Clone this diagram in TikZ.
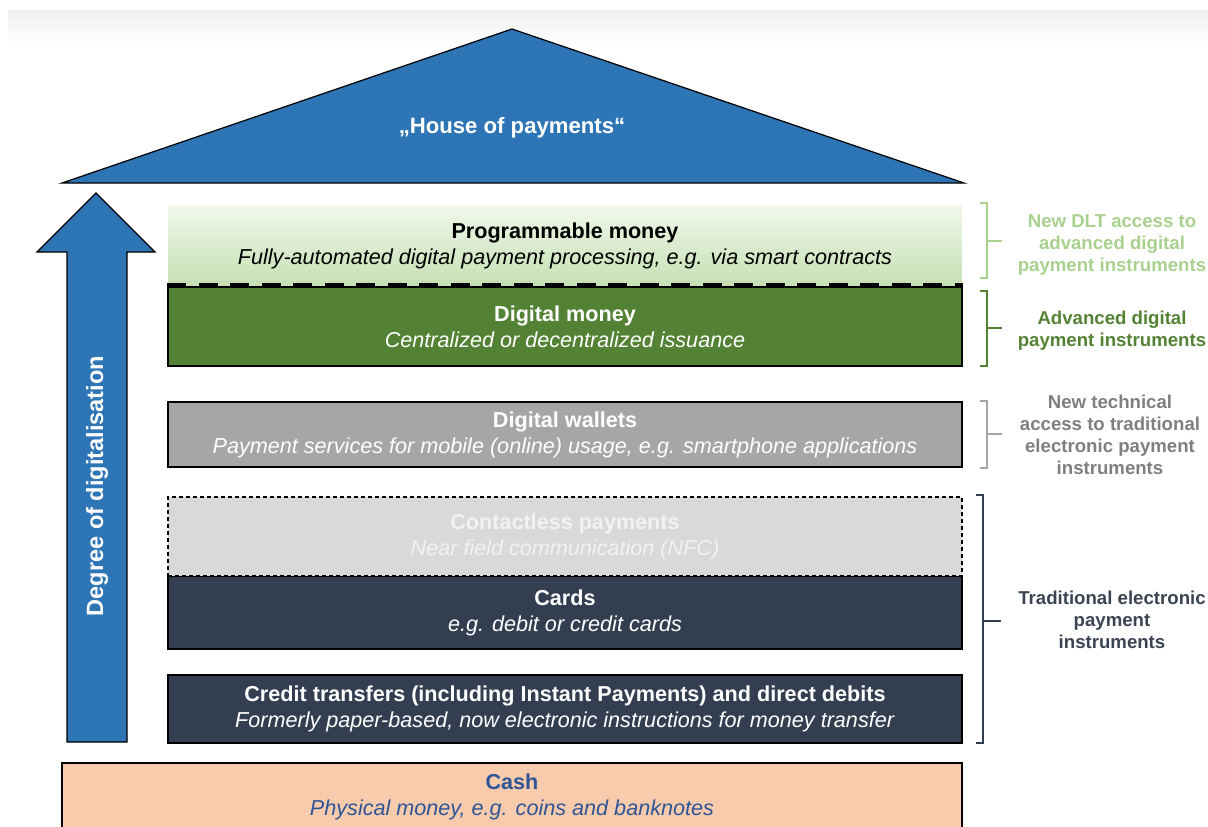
\documentclass[tikz,border=0pt]{standalone}
\usepackage{fontspec}
\setmainfont{Liberation Sans}
\usetikzlibrary{positioning}

\definecolor{roofblue}{RGB}{46,117,182}
\definecolor{proglight}{RGB}{240,248,234}
\definecolor{progdark}{RGB}{197,224,180}
\definecolor{moneygreen}{RGB}{84,130,53}
\definecolor{walletgray}{RGB}{166,166,166}
\definecolor{nfcgray}{RGB}{217,217,217}
\definecolor{navy}{RGB}{51,63,80}
\definecolor{cashfill}{RGB}{248,203,173}
\definecolor{cashtext}{RGB}{47,85,151}
\definecolor{dltgreen}{RGB}{169,209,142}
\definecolor{techgray}{RGB}{127,127,127}
\definecolor{tradtext}{RGB}{59,68,83}

\tikzset{
    layer/.style={
        draw=black, line width=0.7pt,
        minimum width=15.88cm, inner sep=0pt,
        align=center, font=\fontsize{12.3}{14.8}\selectfont
    },
    sidelbl/.style={
        align=center, text=#1,
        font=\bfseries\fontsize{10.6}{12.6}\selectfont
    },
    sidebrk/.style={draw=#1, line width=1.1pt}
}

\begin{document}
\begin{tikzpicture}[x=0.02cm, y=-0.02cm]

\useasboundingbox (0,0) rectangle (1208,826);
\shade[top color=gray!12, bottom color=white] (8,10) rectangle (1208,45);

% ===============================================================
% ==== Roof ====
% ===============================================================
\filldraw[fill=roofblue, draw=black, line width=0.7pt]
    (62,183) -- (512,29) -- (964,183) -- cycle;
\node[text=white, font=\bfseries\fontsize{12.6}{15}\selectfont] (roof) at (512,128) {„House of payments“};

% ===============================================================
% ==== Degree arrow ====
% ===============================================================
\filldraw[fill=roofblue, draw=black, line width=0.7pt]
    (67,742) -- (67,252) -- (37,252) -- (96,193) -- (155,252) -- (127,252) -- (127,742) -- cycle;
\node[rotate=90, text=white, font=\bfseries\fontsize{13.4}{16}\selectfont] (degree) at (97,486) {Degree of digitalisation};

% ===============================================================
% ==== Layers ====
% ===============================================================
% Programmable money (gradient, no frame)
\node[layer, draw=none, minimum height=1.64cm,
      top color=proglight, bottom color=progdark] (prog) at (565,246)
      {\textbf{Programmable money}\\\textit{Fully-automated digital payment processing, e.g. via smart contracts}};

% Digital money
\node[layer, fill=moneygreen, text=white, minimum height=1.58cm] (digital) at (565,326.5)
      {\textbf{Digital money}\\\textit{Centralized or decentralized issuance}};

% Digital wallets
\node[layer, fill=walletgray, text=white, minimum height=1.30cm] (wallets) at (565,434.5)
      {\textbf{Digital wallets}\\\textit{Payment services for mobile (online) usage, e.g. smartphone applications}};

% Cards
\node[layer, fill=navy, text=white, minimum height=1.46cm] (cards) at (565,612.5)
      {\textbf{Cards}\\\textit{e.g. debit or credit cards}};

% Contactless (dashed frame)
\node[layer, fill=nfcgray, text=white!95!black, minimum height=1.58cm,
      dash pattern=on 0.08cm off 0.06cm] (nfc) at (565,536.5)
      {\textbf{Contactless payments}\\\textit{Near field communication (NFC)}};

% Credit transfers
\node[layer, fill=navy, text=white, minimum height=1.36cm] (credit) at (565,709)
      {\textbf{Credit transfers (including Instant Payments) and direct debits}\\\textit{Formerly paper-based, now electronic instructions for money transfer}};

% Cash
\node[layer, fill=cashfill, text=cashtext, minimum width=18cm, minimum height=1.36cm] (cash) at (512,797)
      {\textbf{Cash}\\\textit{Physical money, e.g. coins and banknotes}};

% dashed border between programmable and digital money
\draw[line width=2.6pt, dash pattern=on 0.38cm off 0.25cm]
    ([yshift=0.03cm]digital.north west) -- ([yshift=0.03cm]digital.north east);

% ===============================================================
% ==== Side brackets and labels ====
% ===============================================================
\draw[sidebrk=dltgreen] (980,203) -- (987,203) -- (987,278) -- (980,278);
\draw[sidebrk=dltgreen] (987,241) -- (1002,241);
\node[sidelbl=dltgreen] (lbldlt) at (1112,245)
      {New DLT access to\\advanced digital\\payment instruments};

\draw[sidebrk=moneygreen] (980,291) -- (987,291) -- (987,366) -- (980,366);
\draw[sidebrk=moneygreen] (987,328) -- (1002,328);
\node[sidelbl=moneygreen] (lbladv) at (1112,331)
      {Advanced digital\\payment instruments};

\draw[sidebrk=walletgray] (980,401) -- (987,401) -- (987,468) -- (980,468);
\draw[sidebrk=walletgray] (987,434) -- (1002,434);
\node[sidelbl=techgray] (lbltech) at (1110,435)
      {New technical\\access to traditional\\electronic payment\\instruments};

\draw[sidebrk=navy] (976,495) -- (983,495) -- (983,743) -- (976,743);
\draw[sidebrk=navy] (983,621) -- (1001,621);
\node[sidelbl=tradtext] (lbltrad) at (1112,620)
      {Traditional electronic\\payment\\instruments};

\end{tikzpicture}
\end{document}
